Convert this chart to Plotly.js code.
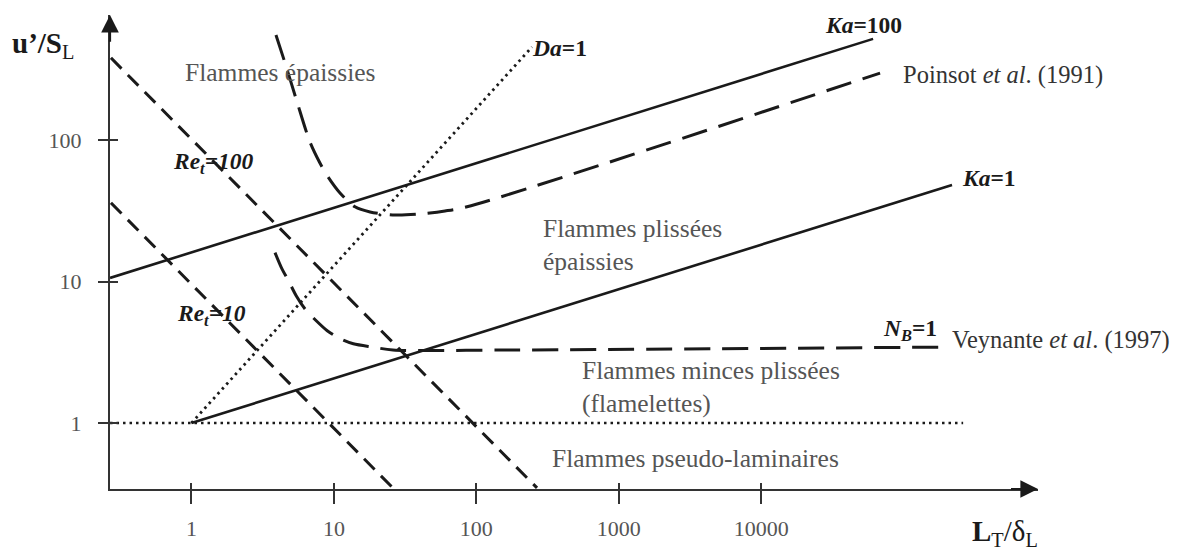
<!DOCTYPE html>
<html>
<head>
<meta charset="utf-8">
<script src="https://cdn.plot.ly/plotly-3.0.1.min.js"></script>
<style>
html,body{margin:0;padding:0;background:#fff;}
#chart{width:1185px;height:553px;}
</style>
</head>
<body>
<div id="chart"></div>
<script>
// ---- data (log-log diagram) ----
const xTickVals = [1, 10, 100, 1000, 10000];
const xTickText = ["1", "10", "100", "1000", "10000"];
const yTickVals = [1, 10, 100];
const yTickText = ["1", "10", "100"];

const ka100X = [0.268, 61100];
const ka100Y = [10.6, 518];

const ka1X = [1, 219000];
const ka1Y = [1, 48.1];

const da1X = [1, 246];
const da1Y = [1, 454];

const unityX = [0.268, 262000];
const unityY = [1, 1];

const re100X = [0.272, 267];
const re100Y = [380, 0.348];

const re10X = [0.272, 25.6];
const re10Y = [36, 0.353];

const poinsotX = [3.92, 4.54, 5.51, 6.79, 7.98, 9.10, 11.04, 14.06, 17.95, 26.9, 40.3, 60.3, 86.1, 68400];
const poinsotY = [552, 350, 186, 96.8, 68.7, 54.8, 42.2, 33.7, 31.0, 29.5, 30.0, 31.5, 33.7, 297];

const veynanteX = [3.86, 4.27, 4.83, 5.45, 6.30, 7.52, 8.98, 11.1, 13.7, 18.8, 26.0, 147, 195000];
const veynanteY = [16.0, 12.6, 10.0, 7.90, 6.36, 5.28, 4.49, 3.94, 3.63, 3.44, 3.28, 3.28, 3.44];

// ---- layout geometry ----
const W = 1185, H = 553;
const M = {l: 110, r: 147, t: 15, b: 64};
const xRange = [-0.572, 5.944];
const yRange = [-0.466, 2.883];
const pw = W - M.l - M.r, ph = H - M.t - M.b;
const px2paperX = px => (px - M.l) / pw;
const px2paperY = py => (H - M.b - py) / ph;

const serif = "Liberation Serif, Times New Roman, serif";
const ink = "#1a1a1a";

function line(x, y, dash, width, shape) {
  return {x: x, y: y, mode: "lines", type: "scatter", hoverinfo: "skip", showlegend: false,
    line: {color: ink, width: width, dash: dash, shape: shape || "linear", smoothing: 0.8}};
}

const traces = [
  line(ka100X, ka100Y, "solid", 2.6),
  line(ka1X, ka1Y, "solid", 2.6),
  line(da1X, da1Y, "2.5px,4px", 2.8),
  line(unityX, unityY, "2.5px,4px", 2.6),
  line(re100X, re100Y, "15px,9px", 3),
  line(re10X, re10Y, "15px,9px", 3),
  line(poinsotX, poinsotY, "26px,12px", 3, "spline"),
  line(veynanteX, veynanteY, "26px,12px", 3, "spline"),
  {x: [1], y: [1], xaxis: "x2", yaxis: "y2", mode: "lines", type: "scatter", hoverinfo: "skip", showlegend: false}
];

function lab(px, py, text, opts) {
  return Object.assign({
    xref: "paper", yref: "paper", x: px2paperX(px), y: px2paperY(py),
    xanchor: "left", yanchor: "middle", showarrow: false, align: "left",
    text: text, font: {family: serif, size: 25.5, color: "#555"}
  }, opts || {});
}
const boldFont = s => ({family: serif, size: s || 23.5, color: ink});

const annotations = [
  lab(10, 45, "<b>u’/S</b><sub>L</sub>", {font: {family: serif, size: 29, color: ink}}),
  lab(970, 533, "<b>L</b><sub>T</sub>/δ<sub>L</sub>", {font: {family: serif, size: 29, color: ink}}),
  lab(183, 73, "Flammes épaissies"),
  lab(541, 245, "Flammes plissées<br>épaissies"),
  lab(580, 387, "Flammes minces plissées<br>(flamelettes)"),
  lab(550, 458, "Flammes pseudo-laminaires"),
  lab(901, 75, "Poinsot <i>et al</i>. (1991)", {font: {family: serif, size: 24.5, color: "#333"}}),
  lab(950, 340, "Veynante <i>et al</i>. (1997)", {font: {family: serif, size: 24.5, color: "#333"}}),
  lab(823, 25, "<b><i>Ka</i>=100</b>", {font: boldFont()}),
  lab(960, 178, "<b><i>Ka</i>=1</b>", {font: boldFont()}),
  lab(530, 48, "<b><i>Da</i>=1</b>", {font: boldFont()}),
  lab(881, 330, "<b><i>N<sub>B</sub></i>=1</b>", {font: boldFont()}),
  lab(171, 163, "<b><i>Re<sub>t</sub>=100</i></b>", {font: boldFont()}),
  lab(175, 315, "<b><i>Re<sub>t</sub>=10</i></b>", {font: boldFont()}),
  // axis arrowheads
  {xref: "x", yref: "y", axref: "x", ayref: "y", x: xRange[1], y: yRange[0], ax: xRange[1] - 0.2, ay: yRange[0],
   text: "", showarrow: true, arrowhead: 2, arrowsize: 1.6, arrowwidth: 2.2, arrowcolor: ink, standoff: 0},
  {xref: "x", yref: "y", axref: "x", ayref: "y", x: xRange[0], y: yRange[1], ax: xRange[0], ay: yRange[1] - 0.2,
   text: "", showarrow: true, arrowhead: 2, arrowsize: 1.6, arrowwidth: 2.2, arrowcolor: ink, standoff: 0}
];

const tickFont = {family: serif, size: 22, color: "#555"};
const layout = {
  width: W, height: H, margin: M, paper_bgcolor: "#fff", plot_bgcolor: "#fff",
  showlegend: false,
  xaxis: {type: "log", range: xRange, showgrid: false, zeroline: false, showline: true, linecolor: "#333", linewidth: 2,
    ticks: "outside", ticklen: 13, tickwidth: 2, tickcolor: "#333", tickvals: xTickVals, ticktext: xTickText,
    tickfont: tickFont, ticklabelstandoff: 6, fixedrange: true},
  yaxis: {type: "log", range: yRange, showgrid: false, zeroline: false, showline: true, linecolor: "#333", linewidth: 2,
    ticks: "outside", ticklen: 10, tickwidth: 2, tickcolor: "#333", tickvals: yTickVals, ticktext: yTickText,
    tickfont: tickFont, ticklabelstandoff: 12, fixedrange: true},
  xaxis2: {type: "log", range: xRange, overlaying: "x", anchor: "y", side: "bottom", showgrid: false, zeroline: false,
    showline: false, ticks: "inside", ticklen: 6, tickwidth: 2, tickcolor: "#333", tickvals: xTickVals,
    showticklabels: false, fixedrange: true},
  yaxis2: {type: "log", range: yRange, overlaying: "y", anchor: "x", side: "left", showgrid: false, zeroline: false,
    showline: false, ticks: "inside", ticklen: 8, tickwidth: 2, tickcolor: "#333", tickvals: yTickVals,
    showticklabels: false, fixedrange: true},
  annotations: annotations
};

Plotly.newPlot("chart", traces, layout, {displayModeBar: false, staticPlot: true});
</script>
</body>
</html>
